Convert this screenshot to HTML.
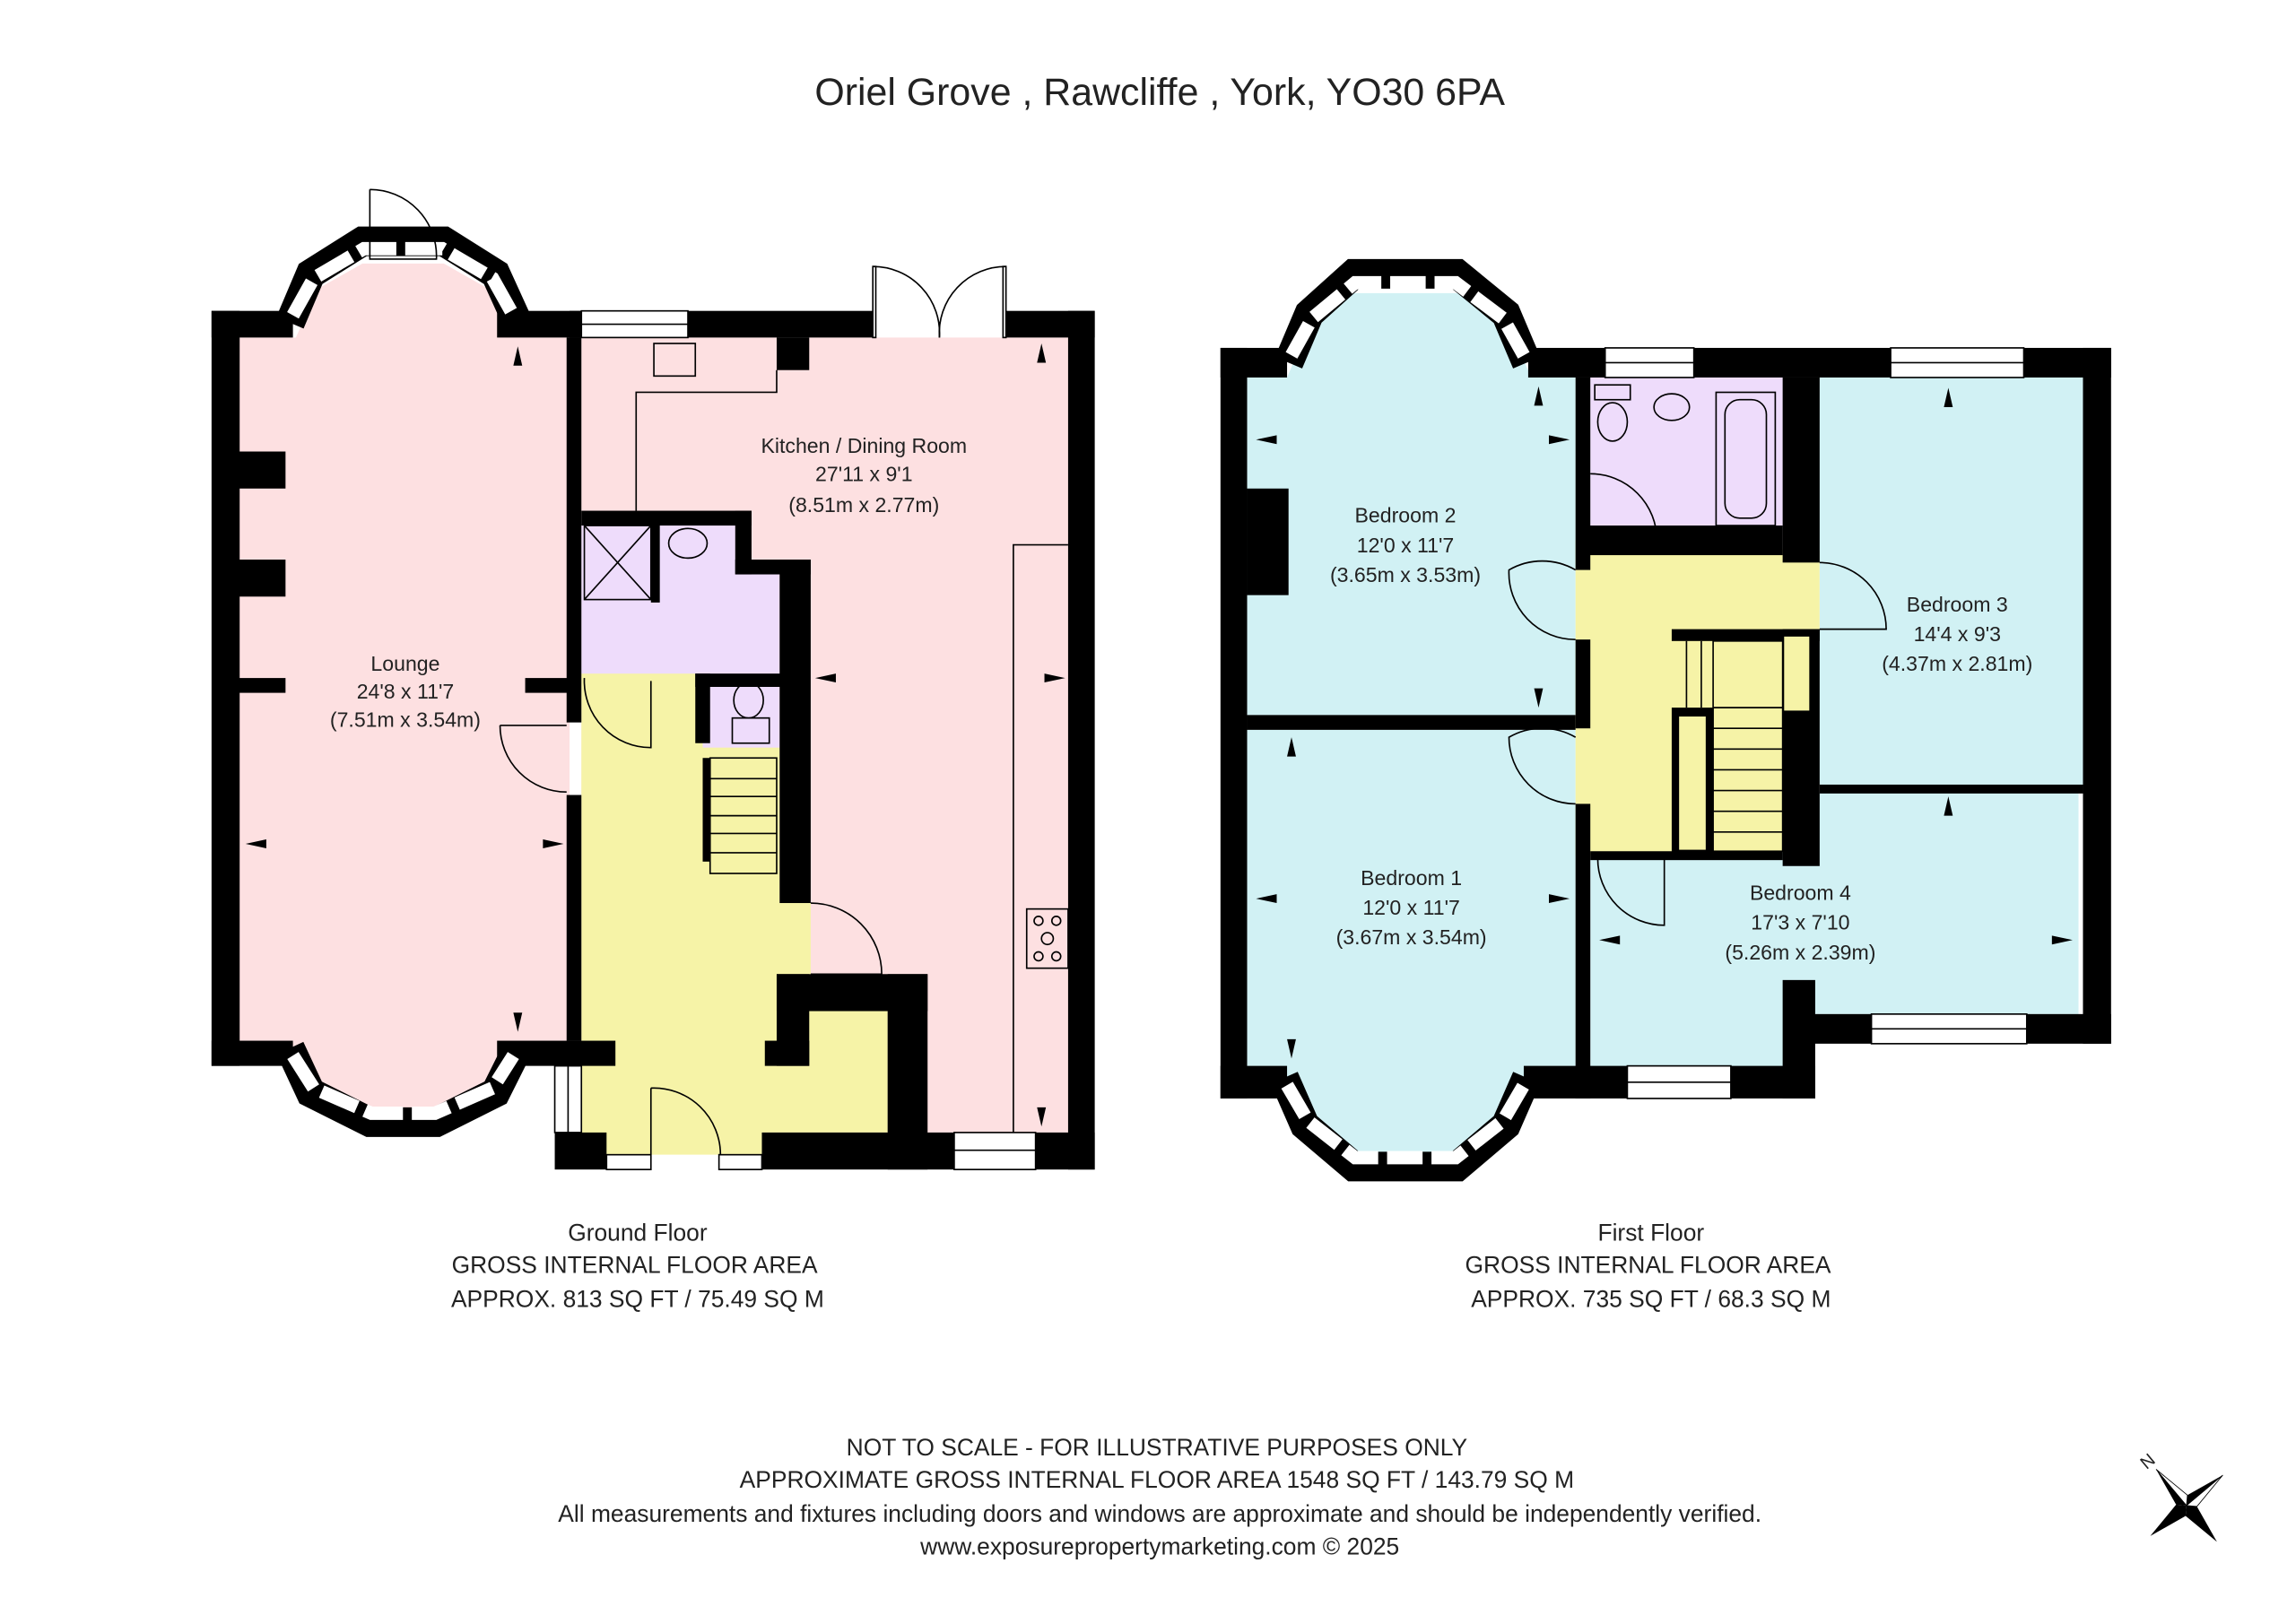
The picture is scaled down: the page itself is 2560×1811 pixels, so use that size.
<!DOCTYPE html>
<html><head><meta charset="utf-8"><style>
html,body{margin:0;padding:0;background:#fff}
svg{display:block}
text{font-family:"Liberation Sans","DejaVu Sans",sans-serif;fill:#222}
</style></head><body>
<svg width="2560" height="1811" viewBox="0 0 1552 1097" preserveAspectRatio="none" xmlns="http://www.w3.org/2000/svg">
<rect width="1552" height="1097" fill="#fff"/>
<text x="784" y="71" font-size="26" text-anchor="middle">Oriel Grove , Rawcliffe , York, YO30 6PA</text>

<!-- ===== GROUND FLOOR ===== -->
<!-- fills -->
<polygon points="160,228 200,228 215,195 245,178 300,178 330,195 345,228 385,228 385,703 345,703 330,735 295,750 250,750 210,735 195,703 160,703" fill="#fde0e1"/>
<rect x="393" y="228" width="330" height="537" fill="#fde0e1"/>
<polygon points="393,455 393,780 515,780 515,765 600,765 600,682 548,682 548,610 527,610 527,505 475,505 475,455" fill="#f6f3a7"/>
<polygon points="393,352 393,455 475,455 475,505 527,505 527,388 497,388 497,352" fill="#eedcfb"/>
<!-- walls lounge -->
<g fill="#000">
<rect x="143" y="210" width="19" height="510"/>
<rect x="143" y="210" width="55" height="18"/>
<rect x="336" y="210" width="57" height="18"/>
<rect x="143" y="703" width="55" height="17"/>
<rect x="336" y="703" width="80" height="17"/>
<rect x="160" y="305" width="33" height="25"/>
<rect x="160" y="378" width="33" height="25"/>
<rect x="160" y="458" width="33" height="10"/>
<rect x="355" y="458" width="30" height="10"/>
<rect x="383" y="228" width="10" height="260"/>
<rect x="383" y="537" width="10" height="166"/>
<!-- kitchen -->
<rect x="385" y="210" width="8" height="18"/>
<rect x="465" y="210" width="125" height="18"/>
<rect x="680" y="210" width="60" height="18"/>
<rect x="722" y="210" width="18" height="580"/>
<rect x="525" y="228" width="22" height="22"/>
<rect x="393" y="345" width="115" height="10"/>
<rect x="497" y="345" width="11" height="43"/>
<rect x="497" y="378" width="51" height="10"/>
<rect x="527" y="378" width="21" height="232"/>
<rect x="470" y="455" width="60" height="9"/>
<rect x="470" y="455" width="10" height="47"/>
<rect x="475" y="512" width="5" height="70"/>
<rect x="525" y="658" width="102" height="25"/>
<rect x="525" y="658" width="22" height="62"/>
<rect x="517" y="703" width="30" height="17"/>
<rect x="600" y="658" width="27" height="132"/>
<rect x="515" y="765" width="130" height="25"/>
<rect x="700" y="765" width="40" height="25"/>
<rect x="375" y="765" width="35" height="25"/>
<rect x="440" y="352" width="6" height="55"/>
</g>
<!-- windows / doors ground -->
<g fill="#fff" stroke="#000" stroke-width="1">
<rect x="393" y="210" width="72" height="18"/><line x1="393" y1="219" x2="465" y2="219"/>
<rect x="645" y="765" width="55" height="25"/><line x1="645" y1="777" x2="700" y2="777"/>
<rect x="375" y="720" width="18" height="45"/><line x1="384" y1="720" x2="384" y2="765"/>
<rect x="410" y="780" width="30" height="10"/>
<rect x="486" y="780" width="29" height="10"/>
</g>
<g fill="none" stroke="#000" stroke-width="1">
<!-- bay windows top lounge -->
<polyline points="196,218 210,185 245,163 300,163 335,185 350,218" stroke="#000" stroke-width="20"/>
<polyline points="198,213 212,188 246,168 299,168 333,188 347,213" stroke="#fff" stroke-width="9" stroke-dasharray="26,6"/>
<polyline points="196,708 210,738 250,758 295,758 335,738 350,708" stroke="#000" stroke-width="20"/>
<polyline points="198,713 212,735 251,752 294,752 333,735 347,713" stroke="#fff" stroke-width="9" stroke-dasharray="26,6"/>
<!-- lounge top door -->
<path d="M250,128 L250,175 L295,175 A45,45 0 0 0 250,128"/>
<!-- french doors -->
<rect x="590" y="180" width="2" height="48"/><path d="M590,180 A45,45 0 0 1 635,228"/>
<rect x="678" y="180" width="2" height="48"/><path d="M680,180 A45,45 0 0 0 635,228"/>
<!-- lounge door -->
<path d="M338,490 L383,490 M338,490 A45,45 0 0 0 383,535"/>
<!-- hall doors -->
<path d="M395,458 A45,45 0 0 0 440,505 L440,460"/>
<path d="M440,735 L440,780 M440,735 A45,45 0 0 1 487,780"/>
<path d="M548,610 A48,48 0 0 1 596,658 L548,658"/>
<!-- kitchen counters -->
<polyline points="430,345 430,265 525,265 525,250"/>
<polyline points="685,765 685,368 722,368"/>
<rect x="694" y="614" width="28" height="40"/>
<circle cx="702" cy="622" r="3"/><circle cx="714" cy="622" r="3"/><circle cx="708" cy="634" r="4"/><circle cx="702" cy="646" r="3"/><circle cx="714" cy="646" r="3"/>
<rect x="442" y="232" width="28" height="22"/>
<!-- shower -->
<rect x="395" y="355" width="45" height="50"/><line x1="395" y1="355" x2="440" y2="405"/><line x1="440" y1="355" x2="395" y2="405"/>
<ellipse cx="465" cy="367" rx="13" ry="10"/>
<ellipse cx="506" cy="473" rx="10" ry="12"/><rect x="495" y="485" width="25" height="17"/>
<!-- stairs -->
<rect x="480" y="512" width="45" height="78"/>
<line x1="480" y1="526" x2="525" y2="526"/><line x1="480" y1="538" x2="525" y2="538"/><line x1="480" y1="551" x2="525" y2="551"/><line x1="480" y1="563" x2="525" y2="563"/><line x1="480" y1="576" x2="525" y2="576"/>
</g>
<g fill="#000">
<polygon points="350,234 347,247 353,247"/>
<polygon points="350,697 347,684 353,684"/>
<polygon points="166,570 180,567 180,573"/>
<polygon points="381,570 367,567 367,573"/>
<polygon points="551,458 565,455 565,461"/>
<polygon points="720,458 706,455 706,461"/>
<polygon points="704,232 701,245 707,245"/>
<polygon points="704,761 701,748 707,748"/>
</g>
<g font-size="14" text-anchor="middle">
<text x="274" y="453">Lounge</text><text x="274" y="472">24'8 x 11'7</text><text x="274" y="491">(7.51m x 3.54m)</text>
<text x="584" y="306">Kitchen / Dining Room</text><text x="584" y="325">27'11 x 9'1</text><text x="584" y="346">(8.51m x 2.77m)</text>
</g>

<!-- ===== FIRST FLOOR ===== -->
<polygon points="843,255 870,255 885,220 915,198 985,198 1020,220 1035,255 1065,255 1065,483 843,483" fill="#d1f1f4"/>
<polygon points="843,493 1065,493 1065,720 1040,720 1020,755 985,778 915,778 880,755 865,720 843,720" fill="#d1f1f4"/>
<rect x="1075" y="255" width="130" height="110" fill="#eedcfb"/>
<polygon points="1065,365 1230,372 1230,425 1205,425 1205,575 1130,578 1065,578" fill="#f6f3a7"/>
<rect x="1230" y="255" width="178" height="275" fill="#d1f1f4"/>
<polygon points="1075,580 1205,580 1205,535 1405,535 1405,685 1225,685 1225,722 1075,722" fill="#d1f1f4"/>
<g fill="#000">
<rect x="825" y="235" width="18" height="507"/>
<rect x="825" y="235" width="45" height="20"/>
<rect x="1033" y="235" width="52" height="20"/>
<rect x="1145" y="235" width="133" height="20"/>
<rect x="1368" y="235" width="59" height="20"/>
<rect x="1408" y="235" width="19" height="470"/>
<rect x="825" y="720" width="45" height="22"/>
<rect x="1030" y="720" width="45" height="22"/>
<rect x="1065" y="255" width="10" height="130"/>
<rect x="1065" y="432" width="10" height="60"/>
<rect x="843" y="483" width="222" height="10"/>
<rect x="1065" y="543" width="10" height="199"/>
<rect x="843" y="330" width="28" height="72"/>
<rect x="1205" y="255" width="25" height="125"/>
<rect x="1073" y="355" width="132" height="20"/>
<rect x="1065" y="720" width="35" height="22"/>
<rect x="1170" y="720" width="57" height="22"/>
<rect x="1205" y="662" width="22" height="80"/>
<rect x="1225" y="685" width="40" height="20"/>
<rect x="1370" y="685" width="57" height="20"/>
<rect x="1230" y="530" width="178" height="6"/>
<rect x="1205" y="425" width="25" height="160"/>
<rect x="1130" y="425" width="100" height="8"/>
<rect x="1130" y="478" width="28" height="100"/>
<rect x="1075" y="575" width="130" height="6"/>
</g>
<rect x="1206" y="430" width="17" height="50" fill="#f6f3a7"/>
<rect x="1135" y="484" width="18" height="90" fill="#f6f3a7"/>
<g fill="#fff" stroke="#000" stroke-width="1">
<rect x="1085" y="235" width="60" height="20"/><line x1="1085" y1="245" x2="1145" y2="245"/>
<rect x="1278" y="235" width="90" height="20"/><line x1="1278" y1="245" x2="1368" y2="245"/>
<rect x="1100" y="720" width="70" height="22"/><line x1="1100" y1="731" x2="1170" y2="731"/>
<rect x="1265" y="685" width="105" height="20"/><line x1="1265" y1="695" x2="1370" y2="695"/>
</g>
<g fill="none" stroke="#000" stroke-width="1">
<polyline points="871,245 885,212 915,185 985,185 1018,212 1032,245" stroke-width="20"/>
<polyline points="873,240 887,215 916,191 984,191 1016,215 1030,240" stroke="#fff" stroke-width="9" stroke-dasharray="24,6"/>
<polyline points="868,728 882,760 915,788 985,788 1018,760 1032,728" stroke-width="20"/>
<polyline points="870,733 884,757 916,782 984,782 1016,757 1030,733" stroke="#fff" stroke-width="9" stroke-dasharray="24,6"/>
<!-- bathroom -->
<rect x="1160" y="265" width="40" height="90"/><rect x="1166" y="270" width="28" height="80" rx="10"/>
<ellipse cx="1130" cy="275" rx="12" ry="9"/>
<ellipse cx="1090" cy="285" rx="10" ry="13"/><rect x="1078" y="260" width="24" height="10"/>
<path d="M1075,320 A45,45 0 0 1 1120,365 L1075,365"/>
<!-- doors -->
<path d="M1065,385 A45,45 0 0 0 1020,385 A45,45 0 0 0 1065,432"/>
<path d="M1065,498 A45,45 0 0 0 1020,498 A45,45 0 0 0 1065,543"/>
<path d="M1230,380 A45,45 0 0 1 1275,425 L1230,425"/>
<path d="M1080,580 A45,45 0 0 0 1125,625 L1125,580"/>
<!-- stairs -->
<rect x="1158" y="433" width="47" height="142"/>
<line x1="1158" y1="478" x2="1205" y2="478"/><line x1="1158" y1="492" x2="1205" y2="492"/><line x1="1158" y1="506" x2="1205" y2="506"/><line x1="1158" y1="520" x2="1205" y2="520"/><line x1="1158" y1="534" x2="1205" y2="534"/><line x1="1158" y1="548" x2="1205" y2="548"/><line x1="1158" y1="562" x2="1205" y2="562"/>
<line x1="1140" y1="433" x2="1140" y2="478"/><line x1="1150" y1="433" x2="1150" y2="478"/>
</g>
<g fill="#000">
<polygon points="1040,261 1037,274 1043,274"/><polygon points="1040,478 1037,465 1043,465"/>
<polygon points="849,297 863,294 863,300"/><polygon points="1061,297 1047,294 1047,300"/>
<polygon points="873,498 870,511 876,511"/><polygon points="873,715 870,702 876,702"/>
<polygon points="849,607 863,604 863,610"/><polygon points="1061,607 1047,604 1047,610"/>
<polygon points="1317,538 1314,551 1320,551"/><polygon points="1317,262 1314,275 1320,275"/>
<polygon points="1081,635 1095,632 1095,638"/><polygon points="1401,635 1387,632 1387,638"/>
</g>
<g font-size="14" text-anchor="middle">
<text x="950" y="353">Bedroom 2</text><text x="950" y="373">12'0 x 11'7</text><text x="950" y="393">(3.65m x 3.53m)</text>
<text x="1323" y="413">Bedroom 3</text><text x="1323" y="433">14'4 x 9'3</text><text x="1323" y="453">(4.37m x 2.81m)</text>
<text x="954" y="598">Bedroom 1</text><text x="954" y="618">12'0 x 11'7</text><text x="954" y="638">(3.67m x 3.54m)</text>
<text x="1217" y="608">Bedroom 4</text><text x="1217" y="628">17'3 x 7'10</text><text x="1217" y="648">(5.26m x 2.39m)</text>
</g>

<g font-size="16" text-anchor="middle">
<text x="431" y="838">Ground Floor</text>
<text x="429" y="860">GROSS INTERNAL FLOOR AREA</text>
<text x="431" y="883">APPROX. 813 SQ FT / 75.49 SQ M</text>
<text x="1116" y="838">First Floor</text>
<text x="1114" y="860">GROSS INTERNAL FLOOR AREA</text>
<text x="1116" y="883">APPROX. 735 SQ FT / 68.3 SQ M</text>
<text x="782" y="983">NOT TO SCALE - FOR ILLUSTRATIVE PURPOSES ONLY</text>
<text x="782" y="1005">APPROXIMATE GROSS INTERNAL FLOOR AREA 1548 SQ FT / 143.79 SQ M</text>
<text x="784" y="1028">All measurements and fixtures including doors and windows are approximate and should be independently verified.</text>
<text x="784" y="1050">www.exposurepropertymarketing.com © 2025</text>
</g>
<!-- compass -->
<g transform="translate(1478,1017) rotate(-40)">
<polygon points="0,-32 5,-5 0,0 -5,-5" fill="#000"/>
<polygon points="0,32 5,5 0,0 -5,5" fill="#000"/>
<polygon points="-32,0 -5,5 0,0 -5,-5" fill="#000"/>
<polygon points="32,0 5,5 0,0 5,-5" fill="#000"/>
<polygon points="0,-32 5,-5 0,0" fill="#fff" stroke="#000" stroke-width="0.5"/>
<polygon points="32,0 5,5 0,0" fill="#fff" stroke="#000" stroke-width="0.5"/>
</g>
<text x="1451" y="993" font-size="12" transform="rotate(-40 1451 993)">N</text>
</svg>
</body></html>
